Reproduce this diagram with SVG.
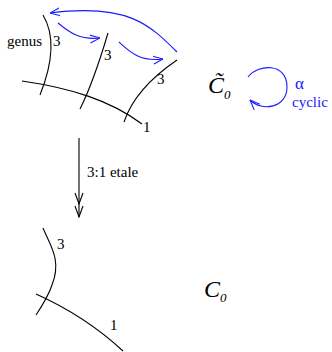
<svg xmlns="http://www.w3.org/2000/svg" width="332" height="352" viewBox="0 0 332 352">
<defs>
<style>
.c{fill:none;stroke:#000;stroke-width:1.1}
.b{fill:none;stroke:#1a1aff;stroke-width:1.1}
text{font-family:'Liberation Serif','Times New Roman',serif}
.t{font-size:15px;fill:#000}
.bt{fill:#1a1aff}
.m{font-style:italic;fill:#000}
</style>
<marker id="ba" viewBox="0 0 10 10" refX="10" refY="5" markerWidth="10" markerHeight="10" markerUnits="userSpaceOnUse" orient="auto">
<path d="M0,1 L10,5 L0,9" fill="none" stroke="#1a1aff" stroke-width="1.1"/>
</marker>
</defs>
<rect width="332" height="352" fill="#fff"/>
<g id="upper-curves" font-family="Liberation Serif, serif">
<path class="c" d="M43,15 C52,30 56,55 40,95"/>
<path class="c" d="M108,33 C100,60 92,85 80,109"/>
<path class="c" d="M177,60 C155,75 133,95 124,122"/>
<path class="c" d="M22,81 C70,88 110,100 142,124"/>
<text class="t" x="7" y="46">genus</text>
<text class="t" x="53" y="46">3</text>
<text class="t" x="104" y="60">3</text>
<text class="t" x="157" y="84">3</text>
<text class="t" x="143" y="132">1</text>
</g>
<g id="lower-curves" font-family="Liberation Serif, serif">
<path class="c" d="M43,228 C50,245 62,260 52,285 C48,297 42,306 36,315"/>
<path class="c" d="M36,294 C65,307 95,325 123,351"/>
<text class="t" x="57" y="249">3</text>
<text class="t" x="110" y="330">1</text>
</g>
<g id="C0tilde" font-family="Liberation Serif, serif">
<text class="m" x="208" y="93" font-size="24">C&#x303;</text>
<text class="m" x="224" y="99" font-size="13">0</text>
</g>
<g id="C0" font-family="Liberation Serif, serif">
<text class="m" x="204" y="297" font-size="24">C</text>
<text class="m" x="220" y="302" font-size="13">0</text>
</g>
<g id="alpha-label" font-family="Liberation Serif, serif">
<text class="bt" x="295" y="89" font-size="17">α</text>
<text class="bt" x="292" y="107" font-size="15">cyclic</text>
</g>
<g id="connectors">
<path class="b" d="M177,52 C150,25 128,3 50,13" marker-end="url(#ba)"/>
<path class="b" d="M58,23 C70,33 80,40 100,38" marker-end="url(#ba)"/>
<path class="b" d="M119,42 C130,52 140,62 163,59" marker-end="url(#ba)"/>
<path class="b" d="M248,77 C258,64 287,62 287,87 C287,108 262,112 250,100" marker-end="url(#ba)"/>
<line class="c" x1="79" y1="138" x2="79" y2="217"/>
<path class="c" d="M75,193 L79,204 L83,193 M75,206 L79,217 L83,206"/>
<text class="t" x="87" y="177" font-family="Liberation Serif, serif">3:1 etale</text>
</g>
</svg>
